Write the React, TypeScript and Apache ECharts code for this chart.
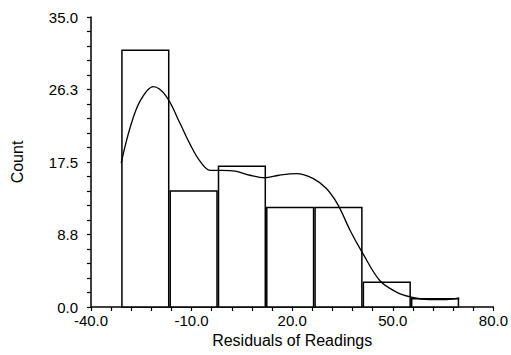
import React, { useEffect, useRef } from "react";
import * as echarts from "echarts";

const binEdges = [-31.0, -16.6, -2.2, 12.2, 26.6, 41.0, 55.4, 69.8];
const counts = [31, 14, 17, 12, 12, 3, 1];
const curveX = [-31, -28.3, -25.3, -21.4, -17.5, -13.5, -10.4, -7.5, -4.5, -1.0, 3.0, 7.4, 11.9, 16.0, 21.3, 26.3, 30.2, 33.7, 37.2, 41.0, 46.1, 51.1, 55.5, 61.0, 66.0, 69.8];
const curveY = [17.4, 21.7, 24.9, 26.6, 25.4, 22.2, 19.6, 17.6, 16.5, 16.5, 16.4, 15.9, 15.6, 15.9, 16.1, 15.5, 14.3, 12.3, 9.3, 6.5, 3.2, 1.8, 1.2, 0.9, 0.9, 1.1];
const xAxisName = "Residuals of Readings";
const yAxisName = "Count";

export default function App() {
  const ref = useRef<HTMLDivElement>(null);
  useEffect(() => {
    document.body.style.margin = "0";
    const chart = echarts.init(ref.current!, null, { renderer: "svg" });
    const barData = counts.map((c, i) => [binEdges[i], binEdges[i + 1], c]);
    const lineData = curveX.map((x, i) => [x, curveY[i]]);
    const font = "Liberation Sans, Arial, sans-serif";
    chart.setOption({
      animation: false,
      backgroundColor: "#fff",
      grid: { left: 91, right: 17, top: 17, bottom: 48 },
      xAxis: {
        type: "value",
        min: -40,
        max: 80,
        interval: 30,
        name: xAxisName,
        nameLocation: "middle",
        nameGap: 24,
        nameTextStyle: { color: "#000", fontSize: 16, fontFamily: font },
        axisLine: { onZero: false, lineStyle: { color: "#000", width: 1.5 } },
        axisTick: { show: true, length: 4, lineStyle: { color: "#000", width: 1.2 } },
        minorTick: { show: true, splitNumber: 5, length: 4, lineStyle: { color: "#000", width: 1.2 } },
        splitLine: { show: false },
        axisLabel: {
          color: "#000",
          fontSize: 15,
          fontFamily: font,
          margin: 6,
          formatter: (v: number) => v.toFixed(1),
        },
      },
      yAxis: {
        type: "value",
        min: 0,
        max: 35,
        interval: 8.75,
        name: yAxisName,
        nameLocation: "middle",
        nameGap: 66,
        nameRotate: 90,
        nameTextStyle: { color: "#000", fontSize: 16, fontFamily: font },
        axisLine: { show: true, onZero: false, lineStyle: { color: "#000", width: 1.5 } },
        axisTick: { show: true, length: 4, lineStyle: { color: "#000", width: 1.2 } },
        minorTick: { show: true, splitNumber: 5, length: 4, lineStyle: { color: "#000", width: 1.2 } },
        splitLine: { show: false },
        axisLabel: {
          color: "#000",
          fontSize: 15,
          fontFamily: font,
          margin: 13,
          formatter: (v: number) => v.toFixed(1),
        },
      },
      series: [
        {
          type: "custom",
          data: barData,
          encode: { x: [0, 1], y: 2 },
          renderItem: (params: any, api: any) => {
            const p0 = api.coord([api.value(0), api.value(2)]);
            const p1 = api.coord([api.value(1), 0]);
            return {
              type: "rect",
              shape: { x: p0[0] + 0.75, y: p0[1], width: p1[0] - p0[0] - 1.5, height: p1[1] - p0[1] },
              style: { fill: "#fff", stroke: "#000", lineWidth: 1.5 },
            };
          },
          z: 1,
        },
        {
          type: "line",
          data: lineData,
          smooth: 0.35,
          showSymbol: false,
          lineStyle: { color: "#000", width: 1.3 },
          z: 3,
        },
      ],
    });
    return () => chart.dispose();
  }, []);
  return <div ref={ref} style={{ width: 511, height: 355 }} />;
}
